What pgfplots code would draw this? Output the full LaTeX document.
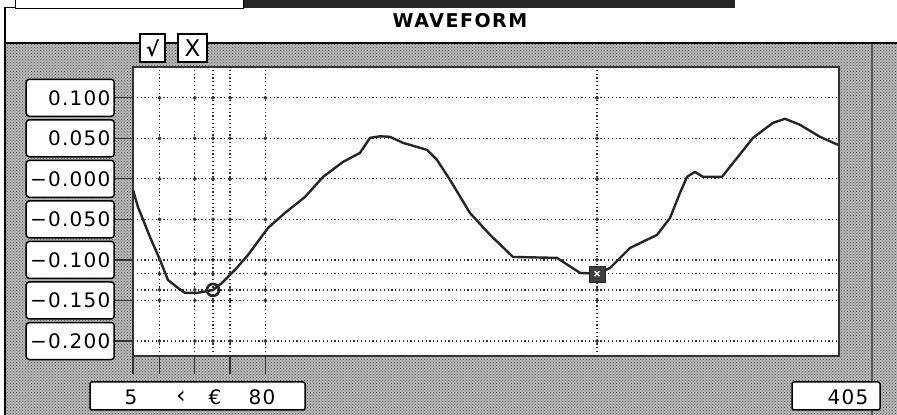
\documentclass[border=0pt]{standalone}
\usepackage{pgfplots}
\pgfplotsset{compat=1.18}
\usepackage{pgfplotstable}
\usepackage{fontspec}
\setmainfont{DejaVu Sans}
\newfontfamily\lblfont[LetterSpace=6]{DejaVu Sans}
\newfontfamily\ttlfont[LetterSpace=8]{DejaVu Sans}
\usetikzlibrary{patterns}

\pgfplotstableread{
x y
5 -0.0136
7.8 -0.0346
14.6 -0.0716
20.3 -0.1
24.8 -0.1247
30.5 -0.1346
34.5 -0.1407
41.3 -0.1407
50.3 -0.1371
55.4 -0.1284
62.8 -0.1123
70.2 -0.0938
81.5 -0.0605
91.1 -0.042
102.5 -0.0222
112.7 0.0025
124.0 0.021
133.6 0.032
139.3 0.0506
145.0 0.0525
150.6 0.0519
158.0 0.0444
171.6 0.0358
177.2 0.0235
184.6 -0.0012
195.9 -0.042
207.3 -0.0691
220.3 -0.0963
245.2 -0.0975
258.3 -0.116
267.9 -0.117
275.3 -0.1099
286.6 -0.0852
301.9 -0.0691
309.3 -0.0481
314.9 -0.0173
318.9 0.0025
323.4 0.0086
327.9 0.0025
338.7 0.0025
356.3 0.0506
367.6 0.0691
374.4 0.0741
382.9 0.0667
394.2 0.0519
404.4 0.0420
}\wave

\pgfplotstableread{
x y
20 0.1
20 0.05
20 0
20 -0.05
20 -0.1
20 -0.117
20 -0.137
20 -0.15
20 -0.2
40 0.1
40 0.05
40 0
40 -0.05
40 -0.1
40 -0.117
40 -0.137
40 -0.15
40 -0.2
50.3 0.1
50.3 0.05
50.3 0
50.3 -0.05
50.3 -0.1
50.3 -0.117
50.3 -0.15
50.3 -0.2
60 0.1
60 0.05
60 0
60 -0.05
60 -0.1
60 -0.117
60 -0.137
60 -0.15
60 -0.2
80 0.1
80 0.05
80 0
80 -0.05
80 -0.1
80 -0.117
80 -0.137
80 -0.15
80 -0.2
267.9 0.1
267.9 0.05
267.9 0
267.9 -0.05
267.9 -0.1
267.9 -0.137
267.9 -0.15
267.9 -0.2
}\dots

\pgfplotstableread{
x y
50.3 -0.137
}\curA

\pgfplotstableread{
x y
267.9 -0.117
}\curB

\begin{document}
\begin{tikzpicture}[x=1pt,y=1pt]
\useasboundingbox (0,0) rectangle (897,415);
\fill[white] (0,0) rectangle (897,415);
% grey stippled frame
\fill[gray!55] (5,0) rectangle (897,372);
\fill[pattern=crosshatch dots, pattern color=black!70] (5,0) rectangle (897,372);
\draw[line width=1.2pt, black!65] (872,0) -- (872,372);
\draw[line width=1.5pt] (5,0) -- (5,408);
\draw[line width=1.2pt] (5,372) -- (897,372);
% top bar
\fill[black!85] (243,407) rectangle (735,415);
\draw[line width=1pt, fill=white] (15,406) rectangle (243,416);
\draw[line width=1pt] (5,407) -- (15,407);
% title
\node[font=\ttlfont\bfseries\fontsize{19}{19}\selectfont] at (460,394) {WAVEFORM};
% check buttons
\draw[line width=1.5pt, fill=white] (140,353) rectangle (165,381);
\node[font=\bfseries\fontsize{20}{20}\selectfont] at (152.5,367) {√};
\draw[line width=1.5pt, fill=white] (178,353) rectangle (207,381);
\node[font=\fontsize{23}{23}\selectfont] at (192.5,367) {X};
% bottom label boxes
\draw[line width=1.5pt, fill=white, rounded corners=2pt] (90,5) rectangle (305,33);
\node[font=\lblfont\fontsize{20}{20}\selectfont] at (131,18) {5};
\node[font=\lblfont\fontsize{24}{24}\selectfont] at (181,18) {‹};
\node[font=\lblfont\fontsize{20}{20}\selectfont] at (215,18) {€};
\node[font=\lblfont\fontsize{20}{20}\selectfont] at (262,18) {80};
\draw[line width=1.5pt, fill=white, rounded corners=2pt] (792,5) rectangle (880,33);
\node[font=\lblfont\fontsize{20}{20}\selectfont] at (848,18) {405};

\begin{axis}[
  at={(133pt,59pt)}, anchor=south west,
  scale only axis, width=706pt, height=289pt,
  xmin=5, xmax=405, ymin=-0.2185, ymax=0.138,
  axis background/.style={fill=white},
  axis line style={line width=1.8pt, black!80},
  xtick={5,20,40,60,80}, xticklabels={},
  ytick={-0.2,-0.15,-0.1,-0.05,0,0.05,0.1},
  yticklabels={−0.200,−0.150,−0.100,−0.050,−0.000,0.050,0.100},
  extra y ticks={-0.117,-0.137}, extra y tick labels={},
  extra y tick style={grid=major, major tick length=0pt,
     yticklabel style={draw=none, fill=none, text width=0pt, minimum height=0pt}},
  extra x ticks={50.3,267.9}, extra x tick labels={},
  extra x tick style={grid=major, major tick length=0pt},
  grid=major,
  major grid style={line width=1.2pt, dash pattern=on 1.2pt off 2.6pt, black!80},
  tick align=outside, major tick length=18pt,
  tick style={line width=1.2pt, black!80},
  xtick pos=bottom, ytick pos=left,
  yticklabel style={font=\lblfont\fontsize{20}{20}\selectfont, draw=black, line width=1.5pt,
     fill=white, rounded corners=3pt, text width=80pt, align=right, minimum height=37pt,
     anchor=east, xshift=0pt, inner sep=4pt},
  clip=false,
]
\addplot[only marks, mark=*, mark size=1.7pt, black!80] table {\dots};
\addplot[line width=2.4pt, black!85, line join=round] table {\wave};
\addplot[only marks, mark=o, mark size=6pt, line width=2.6pt, fill=white, draw=black!85] table {\curA};
\addplot[only marks, mark=square*, mark size=8pt, fill=black!75, draw=black!85] table {\curB};
\addplot[only marks, mark=x, mark size=3.4pt, line width=1.4pt, draw=white] table {\curB};
\end{axis}
\end{tikzpicture}
\end{document}
